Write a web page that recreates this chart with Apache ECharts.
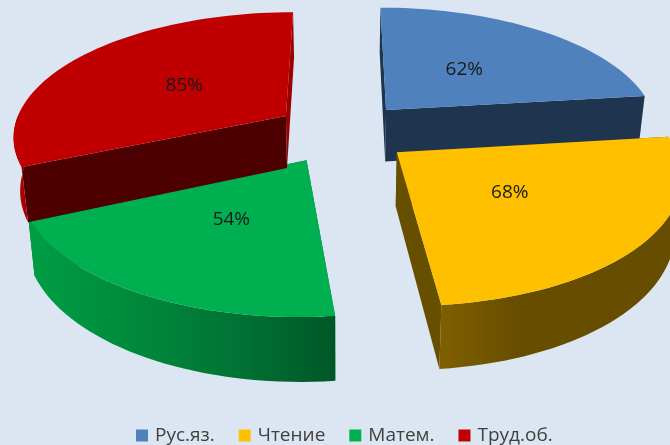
<!DOCTYPE html>
<html>
<head>
<meta charset="utf-8">
<style>
  html, body { margin: 0; padding: 0; background: #dce6f2; }
  #chart { width: 670px; height: 445px; }
</style>
<script src="https://cdn.jsdelivr.net/npm/echarts@6/dist/echarts.min.js"></script>
</head>
<body>
<div id="chart"></div>
<script>
// данные диаграммы
const categories = ['Рус.яз.', 'Чтение', 'Матем.', 'Труд.об.'];
const percents = [62, 68, 54, 85];

const topColors = ['#4f81bd', '#ffc000', '#00b050', '#c00000'];
const startWallColors = ['#1f344f', '#665000', '#007030', '#4d0000'];
const endWallColors = ['#1f344f', '#665000', '#007030', '#990000'];
const outerStops = [
    ['#1f344f', '#1f344f'],
    ['#7f6000', '#664d00', '#664d00', '#664d00'],
    ['#009e45', '#008a3c', '#007435', '#005726'],
    ['#a80000', '#a80000']
];
// порядок рисования: передние секторы поверх задних
const drawOrder = [1, 3, 2, 4];

// параметры псевдо-3D проекции
const cx = 342, cy = 132.6, rx = 273.5, ry = 124;
const persp = 0.15, depth = 53, shrink = 0.02, explode = 0.25;
const toRad = Math.PI / 180;

const total = percents.reduce((a, b) => a + b, 0);
let acc = 0;
const spans = percents.map(v => {
    const s = [acc / total * 360, (acc + v) / total * 360];
    acc += v;
    return s;
});

function project(x, y, z) {
    const w = 1 / (1 - persp * y);
    return [cx + rx * x * w * (1 - shrink * z), cy + (ry * y + depth * z) * w];
}

function renderSlice(idx) {
    return function (params, api) {
        const a0 = api.value(0), a1 = api.value(1);
        const mid = (a0 + a1) / 2 * toRad;
        const ox = explode * Math.sin(mid), oy = -explode * Math.cos(mid);
        const rim = (deg, z) => project(ox + Math.sin(deg * toRad), oy - Math.cos(deg * toRad), z);
        const apex = z => project(ox, oy, z);

        const arc = (from, to, z) => {
            const pts = [];
            const n = Math.max(1, Math.ceil((to - from) / 2));
            for (let i = 0; i <= n; i++) pts.push(rim(from + (to - from) * i / n, z));
            return pts;
        };

        const children = [];
        // внутренние стенки
        children.push({ type: 'polygon', shape: { points: [apex(0), rim(a1, 0), rim(a1, 1), apex(1)] }, style: { fill: endWallColors[idx] } });
        children.push({ type: 'polygon', shape: { points: [apex(0), rim(a0, 0), rim(a0, 1), apex(1)] }, style: { fill: startWallColors[idx] } });
        // внешняя стенка, только передняя половина
        const from = Math.max(a0, 90), to = Math.min(a1, 270);
        if (to > from) {
            const stops = outerStops[idx].map((c, i, arr) => ({ offset: i / (arr.length - 1), color: c }));
            children.push({
                type: 'polygon',
                shape: { points: arc(from, to, 0).concat(arc(from, to, 1).reverse()) },
                style: { fill: new echarts.graphic.LinearGradient(0, 0, 1, 0, stops) }
            });
        }
        // верхняя грань
        children.push({ type: 'polygon', shape: { points: [apex(0)].concat(arc(a0, a1, 0)) }, style: { fill: topColors[idx] } });
        // подпись
        const lp = project(ox + 0.48 * Math.sin(mid), oy - 0.48 * Math.cos(mid), 0);
        children.push({
            type: 'text',
            style: {
                text: api.value(2) + '%', x: lp[0], y: lp[1],
                align: 'center', verticalAlign: 'middle',
                fill: '#1a1a1a', font: '19px "Open Sans"'
            }
        });
        return { type: 'group', children: children };
    };
}

const chart = echarts.init(document.getElementById('chart'));
chart.setOption({
    animation: false,
    backgroundColor: '#dce6f2',
    legend: {
        data: categories,
        left: 136,
        top: 426,
        padding: 0,
        icon: 'rect',
        itemWidth: 12,
        itemHeight: 12,
        itemGap: 24,
        selectedMode: false,
        textStyle: { fontFamily: 'Open Sans', fontSize: 19, color: '#404040', padding: [0, 0, 0, 2] }
    },
    series: categories.map((name, i) => ({
        type: 'custom',
        name: name,
        coordinateSystem: 'none',
        silent: true,
        z: drawOrder[i],
        itemStyle: { color: topColors[i] },
        data: [[spans[i][0], spans[i][1], percents[i]]],
        renderItem: renderSlice(i)
    }))
});
</script>
</body>
</html>
